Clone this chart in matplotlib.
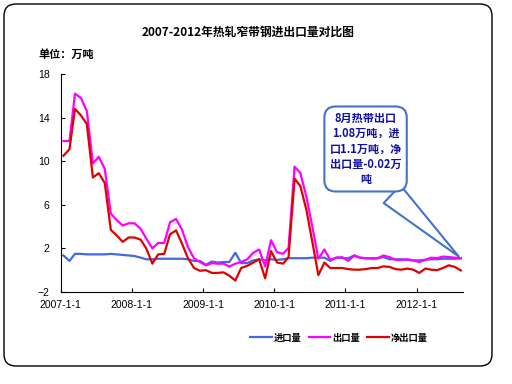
import matplotlib
matplotlib.use('Agg')
from matplotlib import pyplot as plt
from matplotlib.patches import FancyBboxPatch
import pandas as pd

plt.rcParams['font.family'] = ['Liberation Sans', 'Noto Sans CJK SC', 'DejaVu Sans']

# monthly data, 2007-01 .. 2012-08 (unit: 万吨)
months = pd.date_range('2007-01-01', periods=68, freq='MS') + pd.Timedelta(days=14)

imports = [1.35, 0.85, 1.5, 1.5, 1.45, 1.45, 1.45, 1.45, 1.5, 1.45, 1.4, 1.35,
           1.3, 1.15, 1.0, 1.0, 1.05, 1.05, 1.05, 1.05, 1.05, 1.0, 0.85, 0.85,
           0.5, 0.8, 0.7, 0.75, 0.75, 1.6, 0.65, 0.65, 0.9, 1.0, 0.9, 1.0,
           0.95, 1.0, 1.1, 1.1, 1.1, 1.1, 1.15, 1.15, 1.15, 0.85, 1.15, 1.1,
           1.1, 1.35, 1.15, 1.1, 1.1, 1.1, 1.2, 1.0, 1.0, 1.0, 0.95, 0.9,
           0.9, 0.95, 1.0, 1.0, 1.05, 1.05, 1.05, 1.1]

exports = [11.85, 11.85, 16.2, 15.8, 14.6, 9.8, 10.4, 9.3, 5.2, 4.6, 4.1, 4.3,
           4.3, 3.8, 2.9, 2.0, 2.5, 2.5, 4.4, 4.7, 3.7, 2.1, 1.1, 0.75,
           0.45, 0.65, 0.6, 0.6, 0.33, 0.6, 0.75, 1.0, 1.6, 1.9, 0.35, 2.75,
           1.65, 1.5, 2.05, 9.5, 8.9, 6.7, 4.0, 1.05, 1.9, 0.95, 1.15, 1.2,
           0.85, 1.35, 1.15, 1.1, 1.05, 1.1, 1.35, 1.2, 0.95, 0.95, 1.0, 0.9,
           0.75, 0.95, 1.15, 1.1, 1.25, 1.2, 1.15, 1.08]

net_exports = [10.5, 11.1, 14.8, 14.2, 13.4, 8.5, 8.9, 8.0, 3.7, 3.2, 2.6, 3.0,
               3.0, 2.8, 2.0, 0.6, 1.45, 1.5, 3.3, 3.65, 2.4, 1.1, 0.2, -0.05,
               0.0, -0.25, -0.25, -0.2, -0.5, -0.95, 0.2, 0.4, 0.7, 1.0, -0.75, 1.75,
               0.7, 0.6, 1.2, 8.4, 7.7, 5.5, 2.6, -0.45, 0.7, 0.2, 0.2, 0.2,
               0.1, 0.05, 0.05, 0.1, 0.2, 0.2, 0.35, 0.3, 0.1, 0.05, 0.15, 0.05,
               -0.25, 0.15, 0.05, 0.0, 0.2, 0.45, 0.3, -0.02]

tick_dates = pd.to_datetime(['2007-01-01', '2008-01-01', '2009-01-01',
                             '2010-01-01', '2011-01-01', '2012-01-01'])
tick_labels = ['2007-1-1', '2008-1-1', '2009-1-1', '2010-1-1', '2011-1-1', '2012-1-1']
y_ticks = [-2, 2, 6, 10, 14, 18]

cjk = ['Noto Sans CJK SC', 'DejaVu Sans']

fig = plt.figure(figsize=(5.12, 3.84), dpi=100)
ax = fig.add_axes([0.1186, 0.2396, 0.786, 0.5677])

ax.plot(months, imports, color='#4169E1', lw=1.6, label='进口量')
ax.plot(months, exports, color='#FF00FF', lw=1.6, label='出口量')
ax.plot(months, net_exports, color='#E00000', lw=1.6, label='净出口量')

ax.set_ylim(-2, 18)
ax.set_xlim(pd.Timestamp('2007-01-01'), pd.Timestamp('2012-08-27'))
ax.set_yticks(y_ticks)
ax.set_xticks(tick_dates)
ax.set_xticklabels(tick_labels)
ax.tick_params(direction='in', length=3, labelsize=7.5, pad=6)
ax.tick_params(axis='y', pad=8)
for s in ['top', 'right']:
    ax.spines[s].set_visible(False)

fig.text(0.484, 0.917, '2007-2012年热轧窄带钢进出口量对比图', ha='center', va='center',
         fontsize=8.5, fontweight='bold', family=cjk)
fig.text(0.076, 0.857, '单位：万吨', ha='left', va='center',
         fontsize=8, fontweight='bold', family=cjk)

leg = ax.legend(loc='center', bbox_to_anchor=(0.662, 0.12), bbox_transform=fig.transFigure,
                ncol=3, frameon=False, handlelength=2.3, handletextpad=0.2, columnspacing=0.8,
                prop={'family': cjk, 'size': 6.7, 'weight': 'bold'})

ax.annotate('8月热带出口\n1.08万吨，进\n口1.1万吨，净\n出口量-0.02万\n吨',
            xy=(months[-1], exports[-1]), xycoords='data',
            xytext=(0.714, 0.612), textcoords='figure fraction',
            ha='center', va='center', fontsize=8, fontweight='bold', color='#1010A0',
            family=cjk, linespacing=1.25,
            bbox=dict(boxstyle='round,pad=0.45,rounding_size=1.0', fc='white', ec='#4472C4', lw=1.5),
            arrowprops=dict(arrowstyle='wedge,tail_width=2.2,shrink_factor=0.5',
                            relpos=(0.62, 0.12), fc='white', ec='#4472C4', lw=1.5))

border = FancyBboxPatch((0.04, 0.18), 4.88, 3.62, boxstyle='round,pad=0,rounding_size=0.12',
                        transform=fig.dpi_scale_trans, fill=False, ec='black', lw=1.0)
fig.patches.append(border)

plt.savefig('out.png', dpi=100)
